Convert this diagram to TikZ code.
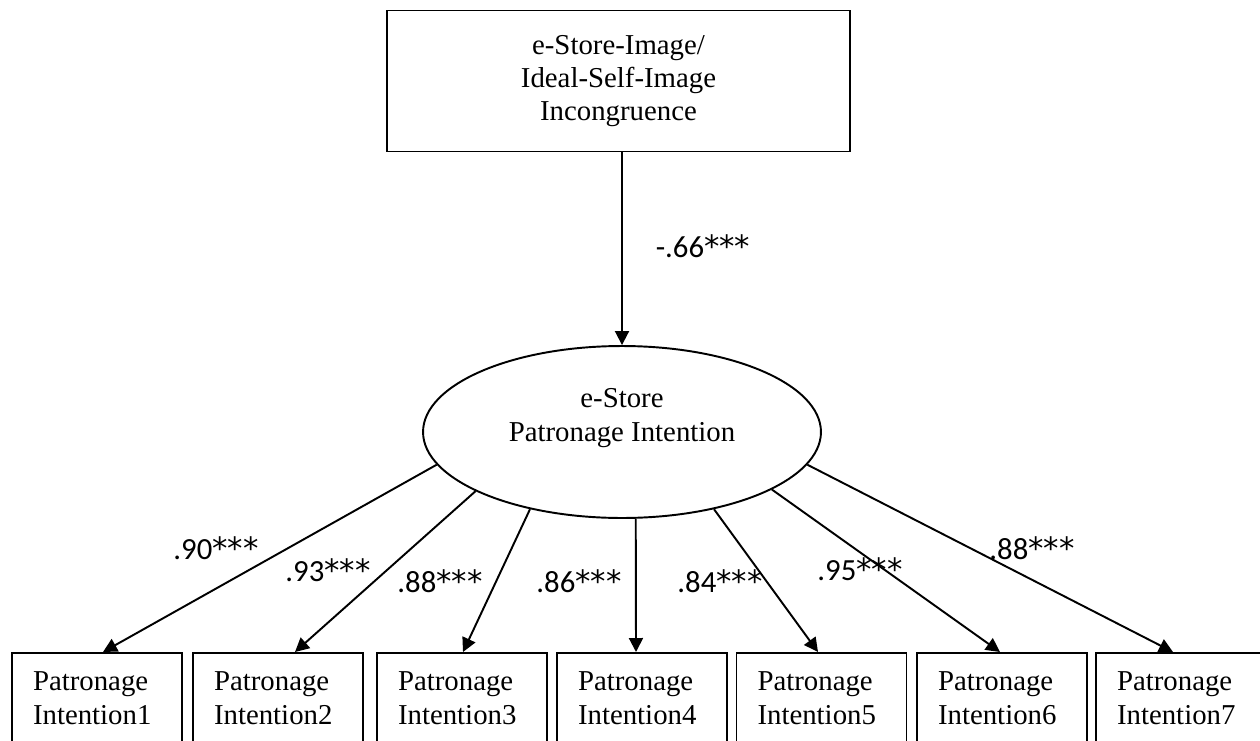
\documentclass[tikz,border=0pt]{standalone}
\usepackage{fontspec}
\setmainfont{Liberation Serif}
\newfontfamily\calibri{Carlito}
\newfontfamily\dejavu{DejaVu Sans}
\newcommand{\sig}{{\dejavu***}}
\usetikzlibrary{arrows.meta,calc,shapes.geometric}

\begin{document}
\begin{tikzpicture}
  [x=0.02cm,y=-0.02cm,line width=1.1pt,
   txt/.style={font=\fontsize{16.4}{19}\selectfont},
   obs/.style={draw,rectangle,txt,inner sep=0pt},
   item/.style={draw,rectangle,txt,anchor=north,text width=2.56cm,inner xsep=0.42cm,inner ysep=0.38cm,align=left},
   latent/.style={draw,ellipse,minimum width=7.96cm,minimum height=3.44cm,inner sep=0pt},
   coef/.style={font=\calibri\fontsize{17.5}{21}\selectfont,inner sep=0pt},
   load/.style={-{Triangle[length=0.28cm,width=0.28cm]}}]
  \clip (0,0) rectangle (1260,740);

  \node[obs,align=center,minimum width=9.26cm,minimum height=2.82cm] (inc) at (618.5,81) {e-Store-Image/\\Ideal-Self-Image\\Incongruence};
  \node[latent] (pi) at (622,432) {};
  \node[txt,align=center] (pitxt) at (622,418) {e-Store\\Patronage Intention};

  \foreach \i/\x in {1/97,2/278,3/462,4/642,5/821.5,6/1002,7/1181}
    \node[item] (i\i) at (\x,652) {Patronage\\Intention\i};

  \draw[load] (inc.south -| pi.north) -- (pi.north);
  \node[coef] (c0) at (703,246) {-.66\sig};

  \foreach \a/\i/\dx/\val/\lx/\ly in {190/1/6/.90/216/548,202/2/17/.93/328/570,220/3/1/.88/440/581,279/4/-6/.86/579/581,320/5/-3.5/.84/720/581,339/6/-2/.95/860/569,350/7/-8/.88/1032/548}
  {
    \draw[load] (pi.\a) -- ($(i\i.north)+(\dx,0)$);
    \node[coef] (c\i) at (\lx,\ly) {\val\sig};
  }

\end{tikzpicture}
\end{document}
